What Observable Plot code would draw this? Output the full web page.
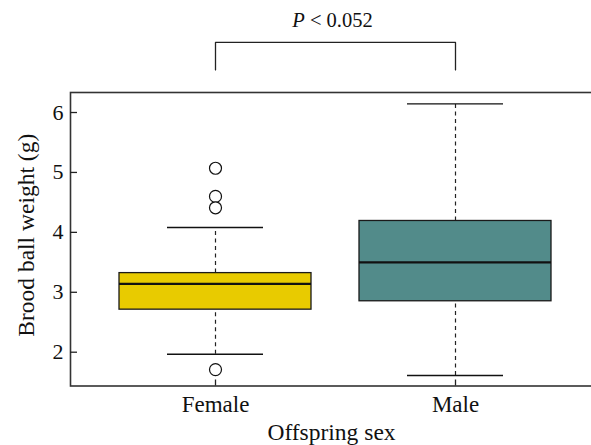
<!DOCTYPE html>
<html>
<head>
<meta charset="utf-8">
<script src="https://cdn.jsdelivr.net/npm/d3@7"></script>
<script src="https://cdn.jsdelivr.net/npm/@observablehq/plot@0.6"></script>
<style>
  html, body { margin: 0; padding: 0; background: #fff; }
  #chart svg { display: block; }
</style>
</head>
<body>
<div id="chart"></div>
<script>
// Box-plot summary values
const sexes = ["Female", "Male"];
const q1 = [2.71, 2.85];
const medians = [3.14, 3.50];
const q3 = [3.32, 4.19];
const whiskerLow = [1.965, 1.61];
const whiskerHigh = [4.08, 6.145];
const outlierSex = ["Female", "Female", "Female", "Female"];
const outlierValue = [5.07, 4.60, 4.41, 1.71];
const boxColors = ["#E8CB00", "#528B8A"];
const yTicks = [2, 3, 4, 5, 6];
const pLabel = "P < 0.052";
const bracketLow = 6.71;
const bracketHigh = 7.17;
const pLabelLevel = 7.53;

const boxes = sexes.map((s, i) => ({
  sex: s, q1: q1[i], median: medians[i], q3: q3[i],
  lo: whiskerLow[i], hi: whiskerHigh[i], color: boxColors[i]
}));
const outliers = outlierSex.map((s, i) => ({sex: s, value: outlierValue[i]}));
const bracket = [
  {sex: sexes[0], y: bracketLow},
  {sex: sexes[0], y: bracketHigh},
  {sex: sexes[1], y: bracketHigh},
  {sex: sexes[1], y: bracketLow}
];

const font = "'Liberation Serif', 'Times New Roman', serif";

const chart = Plot.plot({
  width: 591,
  height: 445,
  marginLeft: 70,
  marginTop: 92,
  marginBottom: 59.5,
  marginRight: -9,
  style: {fontFamily: font, fontSize: "22px", color: "#111", background: "#fff", overflow: "visible"},
  x: {domain: sexes, padding: 0.2, label: null},
  y: {domain: [1.436, 6.334], label: null},
  marks: [
    // whiskers (dashed)
    Plot.ruleX(boxes, {x: "sex", y1: "q3", y2: "hi", stroke: "#222", strokeWidth: 1.2, strokeDasharray: "4,3.5"}),
    Plot.ruleX(boxes, {x: "sex", y1: "lo", y2: "q1", stroke: "#222", strokeWidth: 1.2, strokeDasharray: "4,3.5"}),
    // whisker caps
    Plot.tickY(boxes, {x: "sex", y: "hi", stroke: "#111", strokeWidth: 1.4, insetLeft: 48, insetRight: 48}),
    Plot.tickY(boxes, {x: "sex", y: "lo", stroke: "#111", strokeWidth: 1.4, insetLeft: 48, insetRight: 48}),
    // boxes
    Plot.barY(boxes, {x: "sex", y1: "q1", y2: "q3", fill: "color", stroke: "#1a1a1a", strokeWidth: 1.3}),
    // medians
    Plot.tickY(boxes, {x: "sex", y: "median", stroke: "#111", strokeWidth: 2.2}),
    // outliers
    Plot.dot(outliers, {x: "sex", y: "value", r: 6, fill: "#fff", stroke: "#111", strokeWidth: 1.2}),
    // frame
    Plot.frame({stroke: "#333", strokeWidth: 1.6}),
    // inward ticks
    Plot.axisY(yTicks, {tickSize: 7, dx: 7, text: null, stroke: "#222", strokeWidth: 1.3}),
    Plot.axisY(yTicks, {tickSize: 0, tickPadding: 7, tickFormat: d3.format("d"), fontSize: 22, fill: "#111", label: null}),
    Plot.axisX({tickSize: 6, dy: -6, text: null, stroke: "#222", strokeWidth: 1.3}),
    Plot.axisX({tickSize: 0, tickPadding: 9.5, fontSize: 23, fill: "#111", label: null}),
    // axis titles
    Plot.text(["Brood ball weight (g)"], {frameAnchor: "left", textAnchor: "middle", lineAnchor: "middle", dx: -44, dy: -4, rotate: -90, fontSize: 23.5, fill: "#111"}),
    Plot.text(["Offspring sex"], {frameAnchor: "bottom", textAnchor: "middle", lineAnchor: "middle", dx: -4, dy: 46.5, fontSize: 23.5, fill: "#111"}),
    // significance bracket
    Plot.line(bracket, {x: "sex", y: "y", stroke: "#222", strokeWidth: 1.3}),
    Plot.text([pLabel], {y: () => pLabelLevel, dx: -3, fontSize: 20.5, fill: "#111", className: "pval"})
  ]
});

document.getElementById("chart").appendChild(chart);

// italic P in the significance label
const t = d3.select(chart).select("g.pval text");
const parts = pLabel.split(" ");
t.text(null);
t.append("tspan").attr("font-style", "italic").text(parts[0]);
t.append("tspan").text(" " + parts.slice(1).join(" "));
</script>
</body>
</html>
